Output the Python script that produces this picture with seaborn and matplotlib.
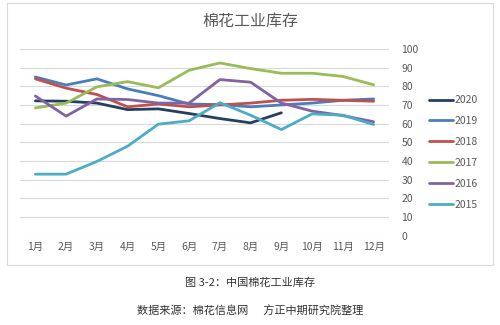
import matplotlib
matplotlib.use("Agg")
import matplotlib.pyplot as plt
import seaborn as sns
import pandas as pd
from matplotlib.patches import Rectangle

months = ["1月", "2月", "3月", "4月", "5月", "6月", "7月", "8月", "9月", "10月", "11月", "12月"]
years = ["2020", "2019", "2018", "2017", "2016", "2015"]

inv_2020 = [72.2, 72.0, 71.0, 67.5, 67.9, 65.4, 62.7, 60.4, 65.8]
inv_2019 = [85.0, 80.7, 84.0, 78.6, 75.0, 70.5, 70.2, 69.0, 70.0, 71.0, 72.5, 73.2]
inv_2018 = [84.0, 79.0, 75.6, 69.0, 70.5, 69.0, 70.0, 71.0, 72.5, 73.0, 72.5, 72.0]
inv_2017 = [68.4, 71.0, 79.7, 82.5, 79.2, 88.6, 92.5, 89.5, 87.0, 87.0, 85.3, 80.8]
inv_2016 = [74.8, 64.0, 73.2, 72.9, 71.0, 71.0, 83.6, 82.2, 71.0, 66.7, 64.3, 61.0]
inv_2015 = [32.9, 32.9, 39.7, 47.9, 59.7, 61.5, 71.2, 64.5, 56.8, 65.2, 64.5, 59.5]

series = {"2020": inv_2020, "2019": inv_2019, "2018": inv_2018,
          "2017": inv_2017, "2016": inv_2016, "2015": inv_2015}
colors = {"2020": "#243F60", "2019": "#4A7EBB", "2018": "#C0504D",
          "2017": "#9BBB59", "2016": "#8064A2", "2015": "#4BACC6"}

rows = []
for y in years:
    for i, v in enumerate(series[y]):
        rows.append({"month": i, "value": v, "year": y})
df = pd.DataFrame(rows)

sns.set_theme(style="white")
plt.rcParams["font.family"] = ["Noto Sans CJK SC", "DejaVu Sans"]

fig = plt.figure(figsize=(5, 3.25), dpi=100)
fig.patch.set_facecolor("white")

# chart frame
fig.patches.append(Rectangle((7 / 500, 1 - 265 / 325), 486 / 500, 262 / 325,
                             transform=fig.transFigure, fill=False,
                             edgecolor="#D9D9D9", linewidth=0.8))

ax = fig.add_axes([20 / 500, (325 - 235.5) / 325, 369 / 500, (235.5 - 49) / 325])
sns.lineplot(data=df, x="month", y="value", hue="year", hue_order=years,
             palette=colors, linewidth=2.0, ax=ax, legend=False, sort=False)

ax.set_xlim(-0.5, 11.5)
ax.set_ylim(0, 100)
ax.set_yticks(range(0, 101, 10))
ax.set_xticks(range(12))
ax.set_xticklabels(months)
ax.yaxis.tick_right()
ax.tick_params(axis="both", length=0, labelsize=7.5, labelcolor="#595959")
ax.tick_params(axis="y", pad=9)
ax.tick_params(axis="x", pad=5)
ax.set_xlabel("")
ax.set_ylabel("")
ax.grid(axis="y", color="#D9D9D9", linewidth=0.8)
for s in ax.spines.values():
    s.set_visible(False)
ax.set_facecolor("none")

fig.text(0.5, 1 - 21 / 325, "棉花工业库存", ha="center", va="center",
         fontsize=11.5, color="#595959")

handles = [plt.Line2D([0], [0], color=colors[y], linewidth=2.0) for y in years]
fig.legend(handles, years, loc="upper left", bbox_to_anchor=(425 / 500, 1 - 91 / 325),
           frameon=False, fontsize=7.5, labelcolor="#595959", handlelength=2.3,
           handletextpad=0.1, labelspacing=1.05, borderaxespad=0)

fig.text(0.5, 1 - 283 / 325, "图 3-2：中国棉花工业库存", ha="center", va="center",
         fontsize=8, color="#333333")
fig.text(0.5, 1 - 311 / 325, "数据来源：棉花信息网      方正中期研究院整理", ha="center",
         va="center", fontsize=8, color="#333333")

fig.savefig("out.png", dpi=100, facecolor="white")
